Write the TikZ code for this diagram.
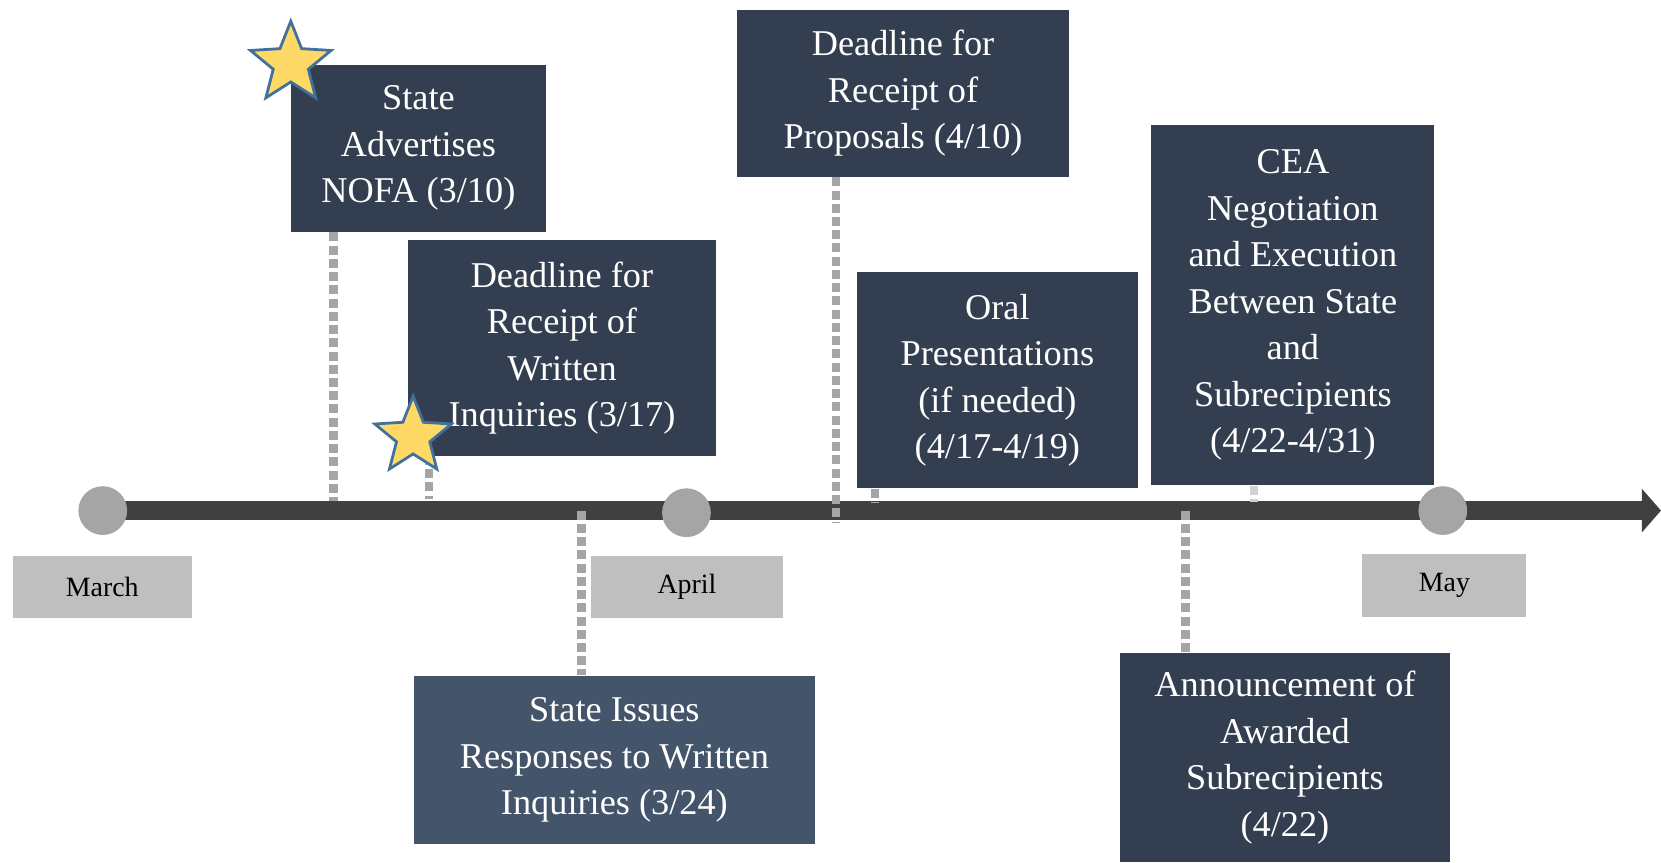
\documentclass[tikz,border=0pt]{standalone}
\usepackage{fontspec}
\setmainfont{Liberation Serif}
\usetikzlibrary{shapes.geometric,arrows.meta}
\definecolor{boxdark}{HTML}{333F50}
\definecolor{boxmid}{HTML}{44546A}
\definecolor{tickgray}{HTML}{A5A5A5}
\definecolor{bargray}{HTML}{404040}
\definecolor{monthgray}{HTML}{BFBFBF}
\definecolor{staryellow}{HTML}{FFD966}
\definecolor{starblue}{HTML}{41719C}
\begin{document}
\begin{tikzpicture}
  \tikzstyle{event}=[fill=boxdark,text=white,align=center,inner sep=0pt,font=\fontsize{19.5}{25}\selectfont]
  \tikzstyle{month}=[fill=monthgray,text=black,inner sep=0pt,font=\fontsize{15}{18}\selectfont]
  \tikzstyle{dot}=[circle,fill=tickgray,minimum size=0.92cm,inner sep=0pt]
  \tikzstyle{tick}=[draw=tickgray,line width=0.16cm,dash pattern=on 0.17cm off 0.08cm]
  \tikzstyle{starmark}=[star,star points=5,star point ratio=2.3,fill=staryellow,draw=starblue,line width=1.5pt,minimum size=1.6cm,inner sep=0pt]
  \useasboundingbox (0,0) rectangle (31.36,16.28);
  % timeline
  \coordinate (start) at (1.94,6.64);
  \coordinate (end) at (31.36,6.64);
  \draw[bargray,line width=0.36cm,-{Triangle[length=0.36cm,width=0.8cm]}] (start) -- (end);
  % events above the line
  \node[event,minimum width=4.8cm,minimum height=3.16cm] (nofa) at (7.9,13.48)
    {State\\Advertises\\NOFA (3/10)};
  \node[event,minimum width=5.82cm,minimum height=4.06cm] (inquiry) at (10.61,9.71)
    {Deadline for\\Receipt of\\Written\\Inquiries (3/17)};
  \node[event,minimum width=6.26cm,minimum height=3.16cm] (proposal) at (17.05,14.52)
    {Deadline for\\Receipt of\\Proposals (4/10)};
  \node[event,minimum width=5.3cm,minimum height=4.08cm] (oral) at (18.83,9.1)
    {Oral\\Presentations\\(if needed)\\(4/17-4/19)};
  \node[event,minimum width=5.34cm,minimum height=6.8cm] (cea) at (24.41,10.52)
    {CEA\\Negotiation\\and Execution\\Between State\\and\\Subrecipients\\(4/22-4/31)};
  % events below the line
  \node[event,fill=boxmid,minimum width=7.56cm,minimum height=3.18cm] (response) at (11.6,1.93)
    {State Issues\\Responses to Written\\Inquiries (3/24)};
  \node[event,minimum width=6.24cm,minimum height=3.96cm] (award) at (24.26,1.98)
    {Announcement of\\Awarded\\Subrecipients\\(4/22)};
  % ticks
  \coordinate (t1) at (6.3,6.82);
  \coordinate (t2) at (8.1,6.86);
  \coordinate (t3) at (15.78,6.42);
  \coordinate (t4) at (10.98,6.64);
  \coordinate (t5) at (22.38,6.64);
  \coordinate (t6) at (16.52,6.8);
  \coordinate (t7) at (23.68,6.8);
  \draw[tick] (t1 |- nofa.south) -- (t1);
  \draw[tick] (t2 |- inquiry.south) -- (t2);
  \draw[tick] (t3 |- proposal.south) -- (t3);
  \draw[tick] (t4) -- (t4 |- response.north);
  \draw[tick] (t5) -- (t5 |- award.north);
  \draw[tick] (t6 |- oral.south) -- (t6);
  \draw[tick,tickgray!50] (t7 |- cea.south) -- (t7);
  % months
  \node[dot] (mar) at (start) {};
  \node[dot] (apr) at (12.96,6.6) {};
  \node[dot] (may) at (27.24,6.64) {};
  \node[month,minimum width=3.38cm,minimum height=1.16cm] (march) at (1.93,5.2) {March};
  \node[month,minimum width=3.62cm,minimum height=1.16cm] (april) at (12.97,5.2) {April};
  \node[month,minimum width=3.1cm,minimum height=1.18cm] (mayl) at (27.27,5.23) {May};
  % stars
  \node[starmark] (star1) at (5.49,15.08) {};
  \node[starmark,minimum size=1.52cm] (star2) at (7.8,8.04) {};
\end{tikzpicture}
\end{document}
